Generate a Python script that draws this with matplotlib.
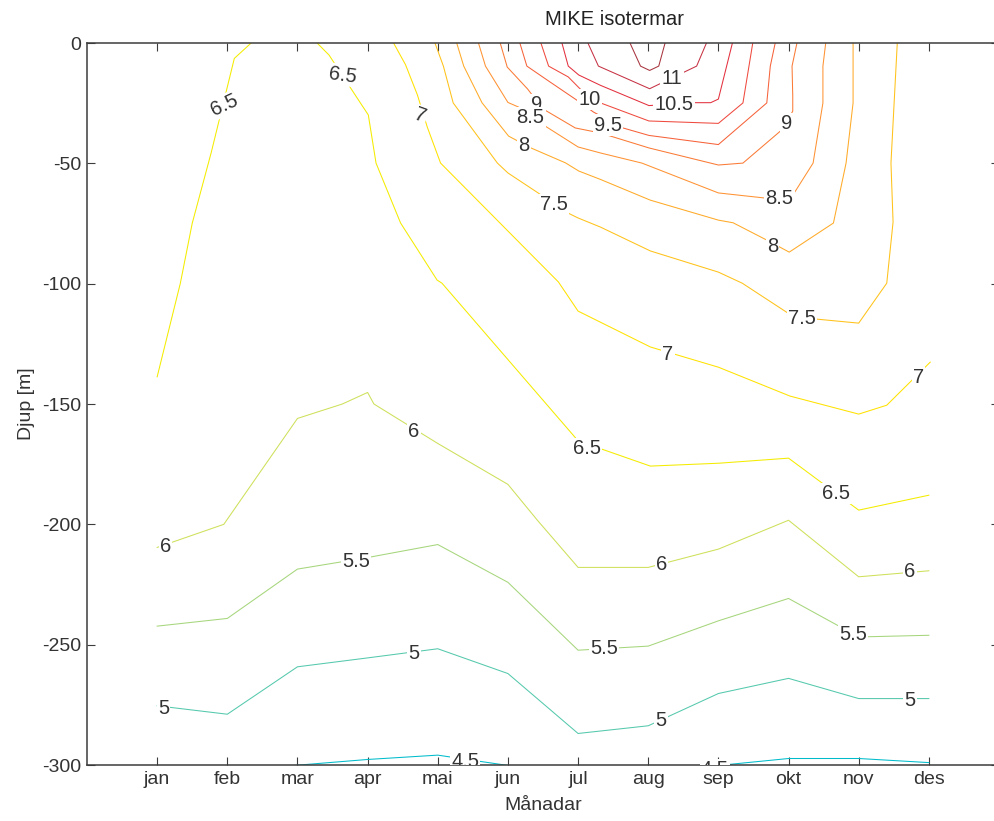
import matplotlib.pyplot as plt

plt.rcParams['font.family'] = ['Liberation Sans', 'DejaVu Sans']

month_names = ['jan', 'feb', 'mar', 'apr', 'mai', 'jun',
               'jul', 'aug', 'sep', 'okt', 'nov', 'des']
depth_ticks = [0, -50, -100, -150, -200, -250, -300]

# isotherm paths: month position and depth [m]
m_45a = [2.95, 4.0, 5.0, 6.0]
d_45a = [-300.2, -297.7, -295.9, -300.2]
m_45b = [9.0, 10.0, 11.0, 12.0]
d_45b = [-300.2, -297.3, -297.3, -299.0]

m_5 = [1, 2, 3, 4, 5, 6, 7, 8, 9, 10, 11, 12]
d_5 = [-275.4, -278.9, -259.2, -255.5, -251.7, -262.0,
       -286.9, -283.7, -270.3, -264.0, -272.4, -272.4]

m_55 = [1, 2, 3, 4, 5, 6, 7, 8, 9, 10, 11, 12]
d_55 = [-242.3, -239.1, -218.6, -213.8, -208.4, -224.1,
        -252.3, -250.6, -240.1, -230.8, -246.8, -246.1]

m_6 = [1.0, 1.95, 3.0, 3.64, 4.0, 4.09, 5.0, 6.0, 6.42, 7.0, 8.0, 9.0, 10.0, 11.0, 12.0]
d_6 = [-209.6, -200.0, -156.0, -150.0, -145.2, -150.0, -166.4, -183.4,
       -198.3, -217.9, -217.9, -210.3, -198.3, -221.8, -219.3]

m_65a = [1.0, 1.33, 1.5, 1.77, 2.1, 2.34]
d_65a = [-138.7, -99.9, -74.9, -45.6, -6.4, 0]
m_65b = [3.28, 3.45, 3.87, 4.01, 4.12, 4.47, 4.99, 5.06, 7.0, 8.03, 9.01, 10.0, 11.0, 12.0]
d_65b = [0, -5.0, -23.7, -29.9, -49.9, -74.8, -98.5, -99.8, -165.3,
         -175.8, -174.6, -172.5, -194.1, -187.9]

m_7 = [4.37, 4.54, 4.71, 4.85, 5.04, 6.72, 7.0, 8.03, 9.0, 10.02, 11.0, 11.4, 12.02]
d_7 = [0, -9.0, -21.6, -34.9, -49.9, -99.3, -111.4, -126.3, -134.7,
       -146.7, -154.2, -150.5, -132.6]

m_75 = [4.96, 5.08, 5.22, 5.85, 6.0, 6.43, 6.86, 7.0, 7.32, 8.03, 9.0, 9.34,
        9.99, 10.39, 11.0, 11.4, 11.49, 11.46, 11.55]
d_75 = [0, -9.6, -24.9, -49.9, -54.0, -62.3, -70.7, -72.7, -76.5, -86.4, -95.2,
        -99.8, -112.2, -114.7, -116.4, -99.8, -74.4, -49.9, 0]

m_8 = [5.27, 5.37, 5.63, 6.01, 6.32, 6.82, 7.01, 7.32, 8.03, 9.0, 9.21, 9.69,
       10.01, 10.64, 10.82, 10.92, 10.92]
d_8 = [0, -9.6, -24.8, -38.7, -43.5, -49.8, -53.2, -56.7, -65.3, -73.6, -74.7,
       -81.9, -86.9, -74.8, -49.9, -24.9, 0]

m_85 = [5.58, 5.68, 6.0, 6.15, 6.53, 7.0, 7.32, 7.91, 9.0, 9.69, 10.01, 10.09,
        10.35, 10.49, 10.49, 10.53]
d_85 = [0, -9.6, -24.7, -26.6, -34.5, -43.2, -45.7, -49.9, -62.3, -64.5, -64.0,
        -61.9, -49.9, -24.9, -9.6, 0]

m_9 = [5.89, 5.99, 6.28, 6.5, 6.96, 7.32, 8.01, 9.0, 9.35, 9.92, 10.06, 10.06, 10.05, 10.12]
d_9 = [0, -10.0, -19.1, -27.4, -35.3, -37.4, -43.6, -50.7, -49.9, -35.7,
       -28.3, -22.0, -9.6, 0]

m_95 = [6.17, 6.27, 6.56, 7.0, 7.22, 7.64, 8.01, 9.0, 9.69, 9.74, 9.81]
d_95 = [0, -9.6, -15.4, -24.1, -28.7, -35.3, -38.4, -42.2, -24.9, -9.6, 0]

m_10 = [6.47, 6.58, 6.86, 7.03, 7.32, 8.01, 9.0, 9.35, 9.49]
d_10 = [0, -9.6, -14.1, -19.1, -24.9, -32.4, -33.4, -24.9, 0]

m_105 = [6.77, 6.86, 7.01, 7.32, 8.01, 8.66, 8.89, 9.0, 9.2]
d_105 = [0, -9.6, -13.3, -17.6, -26.0, -24.8, -24.8, -23.3, 0]

m_11 = [7.14, 7.29, 8.02, 8.69, 8.83]
d_11 = [0, -9.6, -19.0, -9.6, 0]

m_115 = [7.74, 7.89, 8.02, 8.15, 8.24]
d_115 = [0, -9.6, -11.4, -9.6, 0]

# contour labels: text, month, depth, rotation
label_text = ['6.5', '6.5', '7', '9', '8.5', '8', '7.5', '10', '9.5', '11', '10.5',
              '9', '8.5', '8', '7.5', '7', '7', '6.5', '6.5', '6', '6', '6', '6',
              '5.5', '5.5', '5.5', '5', '5', '5', '5', '4.5', '4.5']
label_m = [1.96, 3.65, 4.75, 6.41, 6.32, 6.23, 6.66, 7.16, 7.43, 8.34, 8.37,
           9.97, 9.87, 9.77, 10.19, 8.28, 11.85, 7.13, 10.68, 1.12, 4.66, 8.19, 11.73,
           3.83, 7.37, 10.92, 1.09, 4.66, 8.18, 11.73, 5.39, 8.95]
label_d = [-25.8, -13.3, -30.3, -25.5, -31.0, -42.5, -67.0, -23.4, -34.1, -14.7, -25.5,
           -33.4, -64.5, -84.7, -114.6, -129.3, -138.8, -168.5, -187.2, -209.4, -161.6,
           -216.7, -219.7, -215.6, -251.6, -245.6, -276.5, -253.7, -281.7, -273.1,
           -298.5, -301.8]
label_rot = [25, -8, -20, 0, 0, 0, 0, 0, 0, 0, 0, 0, 0, 0, 0, 0, 0, 0, 0, 0, 0,
             0, 0, 0, 0, 0, 0, 0, 0, 0, 0, 0]

iso_lines = [
    (m_45a, d_45a, '#00bccb'), (m_45b, d_45b, '#00bccb'),
    (m_5, d_5, '#55c9ad'),
    (m_55, d_55, '#a6d67c'),
    (m_6, d_6, '#cfe05a'),
    (m_65a, d_65a, '#f4ec00'), (m_65b, d_65b, '#f4ec00'),
    (m_7, d_7, '#ffe200'),
    (m_75, d_75, '#ffc21a'),
    (m_8, d_8, '#ffaa28'),
    (m_85, d_85, '#ff9233'),
    (m_9, d_9, '#fa7a36'),
    (m_95, d_95, '#f6623a'),
    (m_10, d_10, '#ef4a3e'),
    (m_105, d_105, '#e3303e'),
    (m_11, d_11, '#c63244'),
    (m_115, d_115, '#a8343e'),
]

fig = plt.figure(figsize=(9.95, 8.21), dpi=100)
ax = fig.add_axes([87 / 995, 56 / 821, 912 / 995, 722 / 821])

for xs, ys, col in iso_lines:
    ax.plot(xs, ys, color=col, lw=0.75, zorder=2)

for txt, xm, yd, rot in zip(label_text, label_m, label_d, label_rot):
    ax.text(xm, yd, txt, fontsize=14.5, color='#333333', ha='center', va='center',
            rotation=rot, zorder=3, clip_on=True,
            bbox=dict(boxstyle='square,pad=0.06', fc='white', ec='none'))

ax.set_xlim(0, 13)
ax.set_ylim(-300, 0)
ax.set_xticks(range(1, 13))
ax.set_xticklabels(month_names)
ax.set_yticks(depth_ticks)
ax.set_yticklabels([str(v) for v in depth_ticks])

for s in ax.spines.values():
    s.set_color('#3c3c3c')
    s.set_linewidth(1.1)
ax.tick_params(direction='in', length=6, width=0.8, color='#3c3c3c',
               top=True, right=True, labelsize=14, labelcolor='#333333', pad=4)

ax.set_xlabel('Månadar', fontsize=14, color='#333333', labelpad=7)
ax.set_ylabel('Djup [m]', fontsize=14, color='#333333', labelpad=5)
ax.set_title('MIKE isotermar', fontsize=14.5, color='#222222', pad=13, x=0.578)

fig.savefig('out.png', dpi=100)
